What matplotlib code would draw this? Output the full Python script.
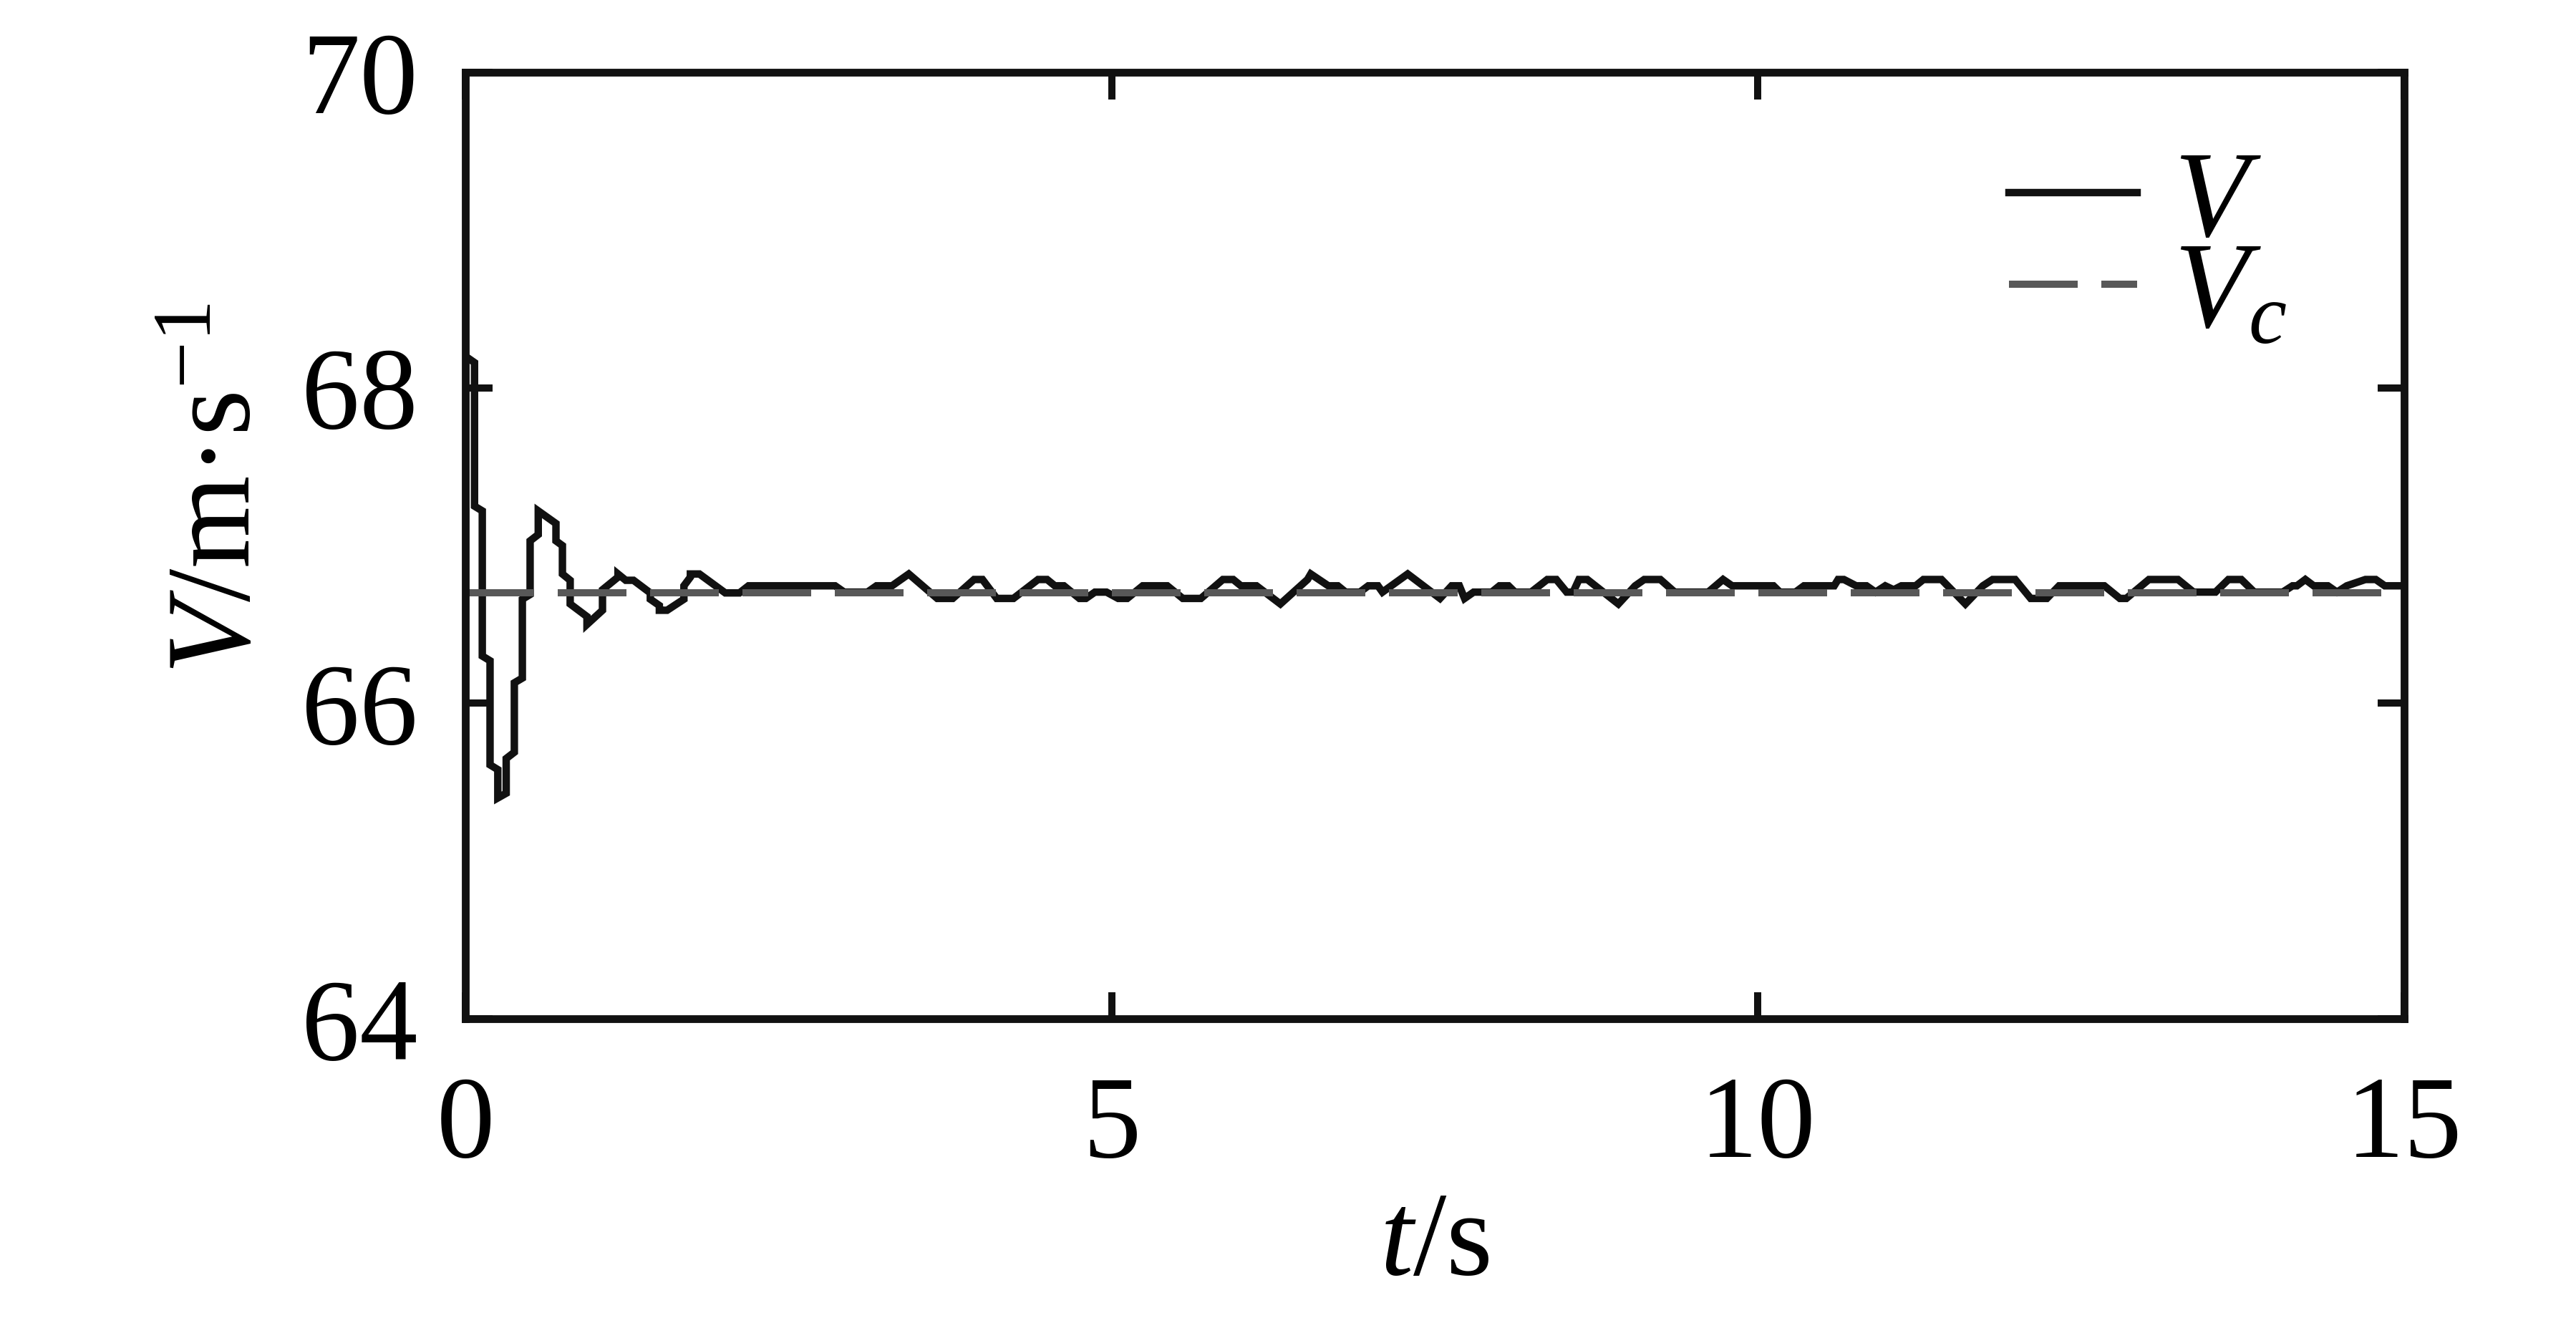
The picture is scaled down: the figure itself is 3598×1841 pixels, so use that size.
import matplotlib
matplotlib.use("Agg")
import matplotlib.pyplot as plt

plt.rcParams['font.family'] = ['Liberation Serif', 'DejaVu Serif']
plt.rcParams['mathtext.fontset'] = 'custom'
plt.rcParams['mathtext.rm'] = 'Liberation Serif'
plt.rcParams['mathtext.it'] = 'Liberation Serif:italic'

# V(t) vertices (s, m/s)
t_v = [0.00, 0.07, 0.07, 0.13, 0.13, 0.19, 0.19, 0.25, 0.25, 0.315,
       0.315, 0.378, 0.378, 0.44, 0.44, 0.50, 0.50, 0.563, 0.563, 0.70,
       0.70, 0.75, 0.75, 0.81, 0.81, 0.94, 0.94, 1.06, 1.06, 1.18,
       1.18, 1.24, 1.30, 1.43, 1.43, 1.50, 1.50, 1.56, 1.69, 1.69,
       1.74, 1.74, 1.81, 2.01, 2.12, 2.19, 2.86, 2.93, 3.11, 3.18,
       3.30, 3.43, 3.65, 3.77, 3.935, 4.00, 4.11, 4.24, 4.43, 4.50,
       4.56, 4.63, 4.75, 4.80, 4.87, 4.96, 5.05, 5.12, 5.24, 5.43,
       5.55, 5.69, 5.86, 5.94, 6.00, 6.12, 6.305, 6.515, 6.54, 6.676,
       6.75, 6.81, 6.92, 6.985, 7.06, 7.095, 7.29, 7.54, 7.63, 7.69,
       7.73, 7.80, 7.94, 8.00, 8.07, 8.12, 8.245, 8.37, 8.44, 8.52,
       8.57, 8.615, 8.68, 8.92, 9.05, 9.12, 9.245, 9.356, 9.615, 9.73,
       9.80, 10.12, 10.17, 10.29, 10.356, 10.59, 10.62, 10.665, 10.76, 10.84,
       10.91, 10.985, 11.05, 11.11, 11.22, 11.28, 11.42, 11.605, 11.74, 11.815,
       11.99, 12.11, 12.235, 12.33, 12.68, 12.80, 12.85, 13.025, 13.25, 13.37,
       13.54, 13.64, 13.74, 13.84, 14.06, 14.136, 14.17, 14.235, 14.30, 14.41,
       14.48, 14.556, 14.70, 14.78, 14.85, 15.00]
v_v = [68.20, 68.16, 67.25, 67.22, 66.30, 66.27, 65.61, 65.58, 65.40, 65.43,
       65.65, 65.69, 66.13, 66.16, 66.66, 66.69, 67.03, 67.07, 67.22, 67.14,
       67.03, 67.00, 66.82, 66.78, 66.63, 66.55, 66.50, 66.59, 66.72, 66.80,
       66.82, 66.78, 66.78, 66.70, 66.66, 66.62, 66.59, 66.59, 66.66, 66.745,
       66.80, 66.82, 66.82, 66.70, 66.70, 66.745, 66.745, 66.705, 66.705, 66.745,
       66.745, 66.82, 66.665, 66.665, 66.785, 66.785, 66.665, 66.665, 66.785, 66.785,
       66.745, 66.745, 66.665, 66.665, 66.705, 66.705, 66.665, 66.665, 66.745, 66.745,
       66.665, 66.665, 66.785, 66.785, 66.745, 66.745, 66.63, 66.785, 66.82, 66.745,
       66.745, 66.705, 66.705, 66.745, 66.745, 66.705, 66.82, 66.665, 66.745, 66.745,
       66.665, 66.705, 66.705, 66.745, 66.745, 66.705, 66.705, 66.785, 66.785, 66.705,
       66.705, 66.785, 66.785, 66.63, 66.745, 66.785, 66.785, 66.705, 66.705, 66.785,
       66.745, 66.745, 66.705, 66.705, 66.745, 66.745, 66.785, 66.785, 66.745, 66.745,
       66.705, 66.745, 66.72, 66.745, 66.745, 66.785, 66.785, 66.63, 66.745, 66.785,
       66.785, 66.665, 66.665, 66.745, 66.745, 66.665, 66.665, 66.785, 66.785, 66.705,
       66.705, 66.785, 66.785, 66.705, 66.705, 66.745, 66.745, 66.785, 66.745, 66.745,
       66.705, 66.745, 66.785, 66.785, 66.745, 66.745]

# commanded speed
t_c = [0.0, 15.0]
v_c = [66.7, 66.7]

x_ticks = [0, 5, 10, 15]
y_ticks = [64, 66, 68, 70]

fig = plt.figure(figsize=(3598 / 300, 1841 / 300), dpi=300)
ax = fig.add_axes([0.1807, 0.2270, 0.7526, 0.7181])

ax.plot(t_v, v_v, color='#111111', lw=2.5, solid_joinstyle='miter', label='$V$')
ax.plot(t_c, v_c, color='#585858', lw=2.4, linestyle=(0, (9.6, 3.3)), label='$V_c$')

ax.set_xlim(0, 15)
ax.set_ylim(64, 70)
ax.set_xticks(x_ticks)
ax.set_yticks(y_ticks)
ax.tick_params(direction='in', length=9, width=2.4, color='#111111',
               labelsize=39, top=True, right=True)
ax.tick_params(axis='x', pad=19)
ax.tick_params(axis='y', pad=16)
for s in ax.spines.values():
    s.set_linewidth(2.6)
    s.set_color('#111111')

ax.set_xlabel('$t$/s', fontsize=40, labelpad=3)
ax.set_ylabel('$V$/m·s$^{-1}$', fontsize=40)
ax.yaxis.set_label_coords(-0.098, 0.56)

ax.legend(loc='upper left', bbox_to_anchor=(0.796, 0.918), frameon=False,
          fontsize=41, handlelength=1.05, handletextpad=0.3, labelspacing=-0.17,
          borderpad=0, borderaxespad=0)

fig.savefig('out.png', dpi=300)
